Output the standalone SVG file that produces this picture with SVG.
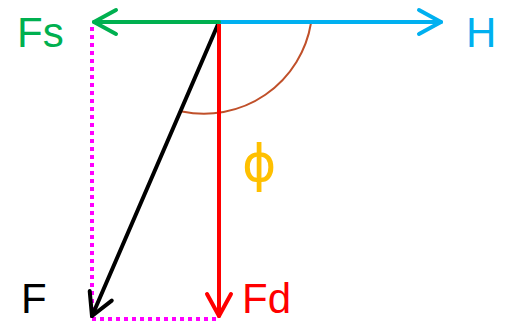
<svg xmlns="http://www.w3.org/2000/svg" width="508" height="322" viewBox="0 0 508 322">
<style>
.lbl{font-family:"Liberation Sans",Arial,sans-serif;font-size:42px}
.ln{fill:none;stroke-width:4;stroke-linecap:round}
</style>
<defs>
<marker id="mg" markerUnits="userSpaceOnUse" markerWidth="40" markerHeight="40" refX="0" refY="0" viewBox="-30 -20 40 40" orient="auto" overflow="visible"><path d="M-22,-12 L0,0 L-22,12" fill="none" stroke="#00B050" stroke-width="4" stroke-linecap="round" stroke-linejoin="round"/></marker>
<marker id="mb" markerUnits="userSpaceOnUse" markerWidth="40" markerHeight="40" refX="0" refY="0" viewBox="-30 -20 40 40" orient="auto" overflow="visible"><path d="M-22,-12 L0,0 L-22,12" fill="none" stroke="#00B0F0" stroke-width="4" stroke-linecap="round" stroke-linejoin="round"/></marker>
<marker id="mr" markerUnits="userSpaceOnUse" markerWidth="40" markerHeight="40" refX="0" refY="0" viewBox="-30 -20 40 40" orient="auto" overflow="visible"><path d="M-22,-12 L0,0 L-22,12" fill="none" stroke="#FF0000" stroke-width="4" stroke-linecap="round" stroke-linejoin="round"/></marker>
<marker id="mk" markerUnits="userSpaceOnUse" markerWidth="40" markerHeight="40" refX="0" refY="0" viewBox="-30 -20 40 40" orient="auto" overflow="visible"><path d="M-22,-12 L0,0 L-22,12" fill="none" stroke="#000000" stroke-width="4" stroke-linecap="round" stroke-linejoin="round"/></marker>
</defs>
<rect width="508" height="322" fill="#ffffff"/>
<g id="connectors">
<path id="arc" d="M311,23 A108.5,108.5 0 0 1 182,111.5" fill="none" stroke="#C0502A" stroke-width="2"/>
<path id="dot-v" d="M92,27 L92,318" fill="none" stroke="#FF00FF" stroke-width="4" stroke-dasharray="4 4"/>
<path id="dot-h" d="M92,319 L218,319" fill="none" stroke="#FF00FF" stroke-width="4" stroke-dasharray="4 4"/>
<path id="arrow-F" class="ln" d="M219,22 L92,316" stroke="#000000" marker-end="url(#mk)"/>
<path id="arrow-Fd" class="ln" d="M219,22 L219,316" stroke="#FF0000" marker-end="url(#mr)"/>
<path id="arrow-H" class="ln" d="M219,22 L441,22" stroke="#00B0F0" marker-end="url(#mb)"/>
<path id="arrow-Fs" class="ln" d="M219,22 L94,22" stroke="#00B050" marker-end="url(#mg)"/>
</g>
<g id="node-Fs"><text class="lbl" x="17" y="47" fill="#00B050">Fs</text></g>
<g id="node-H"><text class="lbl" x="466" y="47" fill="#00B0F0">H</text></g>
<g id="node-F"><text class="lbl" x="21" y="313" fill="#000000">F</text></g>
<g id="node-Fd"><text class="lbl" x="242" y="313" fill="#FF0000">Fd</text></g>
<g id="node-phi"><text class="lbl" x="242" y="181" fill="#FFC000" style="font-family:'DejaVu Sans',sans-serif;font-size:52px">ϕ</text></g>
</svg>
